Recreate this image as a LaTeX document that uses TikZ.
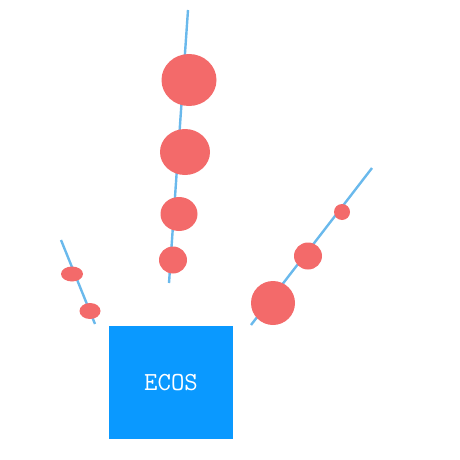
\documentclass[tikz,border=0pt]{standalone}
\usepackage{fontspec}
\usepackage{xcolor}
\usetikzlibrary{shapes.geometric}
\definecolor{bubblered}{HTML}{F36A6A}
\definecolor{stemblue}{HTML}{6AB9EC}
\definecolor{boxblue}{HTML}{0A99FF}

\begin{document}
\begin{tikzpicture}[
    x=1pt, y=-1pt,
    bubble/.style={ellipse, fill=bubblered, inner sep=0pt},
    stem/.style={draw=stemblue, line width=2.4pt},
    core/.style={rectangle, fill=boxblue, text=white, minimum width=124pt, minimum height=113pt, font=\ttfamily\fontsize{26}{26}\selectfont}
]
\useasboundingbox (0,0) rectangle (460,460);

% stem ends
\coordinate (midtop) at (188,10);
\coordinate (midbot) at (169,283);
\coordinate (lefttop) at (61,240);
\coordinate (leftbot) at (95,324);
\coordinate (righttop) at (372,168);
\coordinate (rightbot) at (251,325);

\draw[stem] (midtop) -- (midbot);
\draw[stem] (lefttop) -- (leftbot);
\draw[stem] (righttop) -- (rightbot);

% middle stem
\node[bubble, minimum width=55pt, minimum height=52pt] (m1) at (189,80) {};
\node[bubble, minimum width=50pt, minimum height=46pt] (m2) at (185,152) {};
\node[bubble, minimum width=37pt, minimum height=34pt] (m3) at (179,214) {};
\node[bubble, minimum width=28pt, minimum height=27pt] (m4) at (173,260) {};

% left stem
\node[bubble, minimum width=22pt, minimum height=15pt] (l1) at (72,274) {};
\node[bubble, minimum width=21pt, minimum height=16pt] (l2) at (90,311) {};

% right stem
\node[bubble, minimum width=16pt, minimum height=16pt] (r1) at (342,212) {};
\node[bubble, minimum width=28pt, minimum height=27pt] (r2) at (308,256) {};
\node[bubble, minimum width=44pt, minimum height=44pt] (r3) at (273,303) {};

\node[core] (ecos) at (171,382.5) {\raisebox{-3pt}{ECOS}};
\end{tikzpicture}
\end{document}
